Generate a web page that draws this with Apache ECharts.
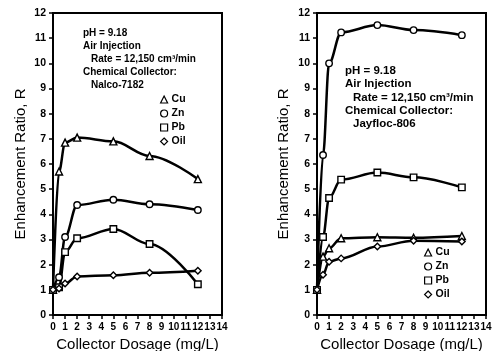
<!DOCTYPE html>
<html>
<head>
<meta charset="utf-8">
<script src="https://cdn.jsdelivr.net/npm/echarts@6/dist/echarts.min.js"></script>
<style>
html,body{margin:0;padding:0;background:#fff;}
#c{width:494px;height:351px;}
</style>
</head>
<body>
<div id="c"></div>
<script>
// Collector dosage (mg/L)
const doseX = [0, 0.5, 1, 2, 5, 8, 12];
// Left panel: Nalco-7182
const nalcoCu  = [1.0, 5.7, 6.85, 7.05, 6.9, 6.32, 5.4];
const nalcoZn  = [1.0, 1.5, 3.1, 4.37, 4.58, 4.4, 4.17];
const nalcoPb  = [1.0, 1.1, 2.5, 3.05, 3.42, 2.82, 1.22];
const nalcoOil = [1.0, 1.05, 1.25, 1.53, 1.58, 1.68, 1.76];
// Right panel: Jayfloc-806
const jayCu  = [1.0, 2.32, 2.65, 3.05, 3.09, 3.07, 3.14];
const jayZn  = [1.0, 6.36, 10.0, 11.23, 11.52, 11.32, 11.12];
const jayPb  = [1.0, 3.1, 4.65, 5.38, 5.66, 5.47, 5.07];
const jayOil = [1.0, 1.6, 2.12, 2.25, 2.72, 2.95, 2.92];
const seriesNames = ['Cu', 'Zn', 'Pb', 'Oil'];
const seriesSymbols = ['triangle', 'circle', 'rect', 'diamond'];
const xTitle = 'Collector Dosage (mg/L)';
const yTitle = 'Enhancement Ratio, R';
const leftNote = ['pH = 9.18', 'Air Injection', 'Rate = 12,150 cm³/min', 'Chemical Collector:', 'Nalco-7182'];
const rightNote = ['pH = 9.18', 'Air Injection', 'Rate = 12,150 cm³/min', 'Chemical Collector:', 'Jayfloc-806'];

const FONT = 'Liberation Sans';
const chart = echarts.init(document.getElementById('c'), null, {renderer: 'canvas'});

function xAxis(gi) {
  return {
    gridIndex: gi, type: 'value', min: 0, max: 14, interval: 1,
    name: xTitle, nameLocation: 'middle', nameGap: 22,
    nameTextStyle: {fontSize: 15, color: '#000', fontFamily: FONT, verticalAlign: 'top'},
    axisLine: {show: true, onZero: false, lineStyle: {color: '#000', width: 2}},
    axisTick: {show: true, inside: false, length: 4, lineStyle: {color: '#000', width: 1.5}},
    axisLabel: {fontSize: 10, fontWeight: 'bold', color: '#000', margin: 7, fontFamily: FONT},
    splitLine: {show: false}
  };
}
function yAxis(gi, gap) {
  return {
    gridIndex: gi, type: 'value', min: 0, max: 12, interval: 1,
    name: yTitle, nameLocation: 'middle', nameGap: gap,
    nameTextStyle: {fontSize: 15, color: '#000', fontFamily: FONT},
    axisLine: {show: true, onZero: false, lineStyle: {color: '#000', width: 2}},
    axisTick: {show: true, inside: false, length: 4, lineStyle: {color: '#000', width: 1.5}},
    axisLabel: {fontSize: 10.5, fontWeight: 'bold', color: '#000', margin: 7, fontFamily: FONT},
    splitLine: {show: false}
  };
}
function mk(name, sym, arr, gi) {
  return {
    name: name, type: 'line', xAxisIndex: gi, yAxisIndex: gi,
    data: doseX.map((x, i) => [x, arr[i]]),
    smooth: 0.35, smoothMonotone: 'x',
    symbol: sym, symbolSize: sym === 'triangle' ? 7 : 6.5,
    showSymbol: true,
    lineStyle: {color: '#000', width: 2.5},
    itemStyle: {color: '#fff', borderColor: '#000', borderWidth: 1.4},
    emphasis: {disabled: true},
    z: 3
  };
}
const leftData = [nalcoCu, nalcoZn, nalcoPb, nalcoOil];
const rightData = [jayCu, jayZn, jayPb, jayOil];
const series = [];
seriesNames.forEach((n, i) => series.push(mk(n, seriesSymbols[i], leftData[i], 0)));
seriesNames.forEach((n, i) => series.push(mk(n, seriesSymbols[i], rightData[i], 1)));

function legend(left, top) {
  return {
    orient: 'vertical', left: left, top: top, itemWidth: 7, itemHeight: 7, itemGap: 1,
    padding: 0,
    selectedMode: false,
    data: seriesNames.map((n, i) => ({name: n, icon: seriesSymbols[i]})),
    itemStyle: {color: '#fff', borderColor: '#000', borderWidth: 1.2},
    lineStyle: {width: 0, opacity: 0},
    textStyle: {fontSize: 10.5, fontWeight: 'bold', color: '#000', fontFamily: FONT, lineHeight: 13, padding: [0, 0, 0, -1]}
  };
}
function note(lines, x0, x1, y0, dy, fs) {
  return lines.map((t, i) => ({
    type: 'text', left: (i === 2 || i === 4) ? x1 : x0, top: y0 + i * dy,
    style: {text: t, fontSize: fs, fontWeight: 'bold', fill: '#000', fontFamily: FONT}
  }));
}
const gridBase = {top: 13, width: 169, height: 302, show: true, borderColor: '#000', borderWidth: 2,
  backgroundColor: 'transparent', containLabel: false, outerBoundsMode: 'none'};

chart.setOption({
  animation: false,
  backgroundColor: '#fff',
  textStyle: {fontFamily: FONT},
  grid: [
    Object.assign({left: 53}, gridBase),
    Object.assign({left: 317}, gridBase)
  ],
  xAxis: [xAxis(0), xAxis(1)],
  yAxis: [yAxis(0, 25), yAxis(1, 26)],
  legend: [legend(160, 93), legend(424, 246)],
  series: series,
  graphic: [].concat(
    note(leftNote, 83, 91, 28, 13, 10),
    note(rightNote, 345, 353, 65, 13.2, 11.5)
  )
});
</script>
</body>
</html>
